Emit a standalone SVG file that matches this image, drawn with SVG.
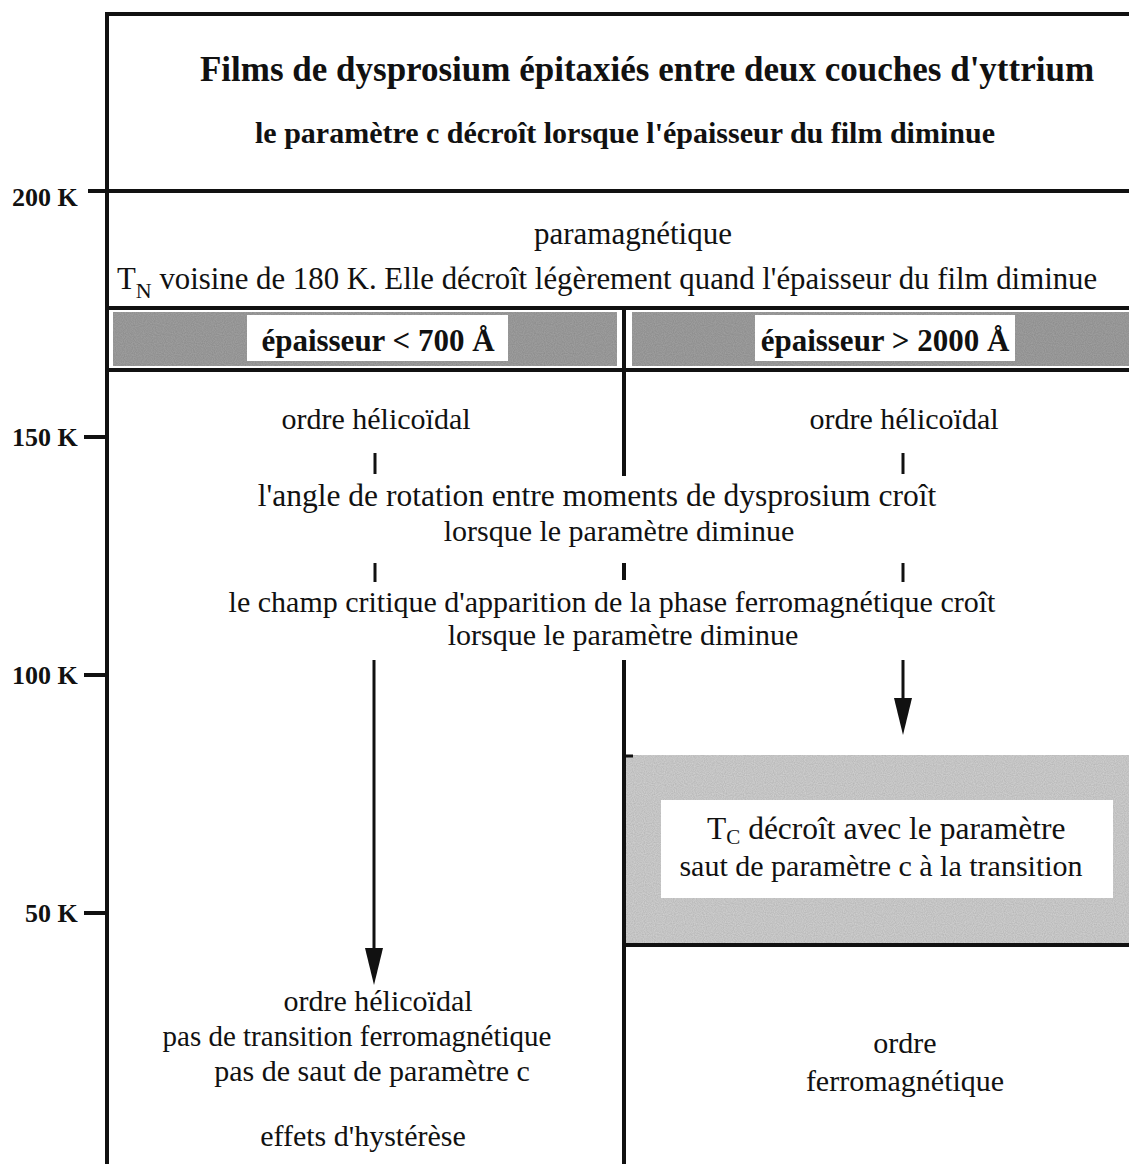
<svg xmlns="http://www.w3.org/2000/svg" width="1129" height="1164" viewBox="0 0 1129 1164">
<style>
.t{font-family:"Liberation Serif","Times New Roman",serif;font-size:30px;fill:#111}
.b{font-family:"Liberation Serif","Times New Roman",serif;font-weight:bold;fill:#111}
.ln{stroke:#111;stroke-width:4;fill:none}
.bar{stroke:#111;stroke-width:3;fill:none}
.ar{stroke:#111;stroke-width:3;fill:none}
</style>
<defs>
<filter id="grain" x="0" y="0" width="100%" height="100%">
<feTurbulence type="fractalNoise" baseFrequency="0.9" numOctaves="1" seed="3" result="n"/>
<feColorMatrix in="n" type="matrix" values="0 0 0 0 0  0 0 0 0 0  0 0 0 0 0  0 0 0 0.35 0" result="d"/>
<feComposite in="d" in2="SourceGraphic" operator="in" result="m"/>
<feMerge><feMergeNode in="SourceGraphic"/><feMergeNode in="m"/></feMerge>
</filter>
</defs>
<rect width="1129" height="1164" fill="#fff"/>

<g id="frame">
<line class="ln" x1="107" y1="14" x2="1129" y2="14"/>
<line class="ln" x1="107" y1="12" x2="107" y2="1164"/>
<line class="ln" x1="88" y1="191" x2="1129" y2="191"/>
<line class="ln" x1="107" y1="308" x2="1129" y2="308"/>
<line class="ln" x1="107" y1="370" x2="1129" y2="370"/>
<line class="ln" x1="624" y1="308" x2="624" y2="476"/>
<line class="ln" x1="624" y1="563" x2="624" y2="580"/>
<line class="ln" x1="624" y1="660" x2="624" y2="1164"/>
</g>

<g id="axis">
<line class="ln" x1="84" y1="437" x2="107" y2="437"/>
<line class="ln" x1="84" y1="675" x2="107" y2="675"/>
<line class="ln" x1="84" y1="913" x2="107" y2="913"/>
<text class="b" x="12" y="206" font-size="26">200 K</text>
<text class="b" x="12" y="446" font-size="26">150 K</text>
<text class="b" x="12" y="684" font-size="26">100 K</text>
<text class="b" x="25" y="922" font-size="26">50 K</text>
</g>

<g id="header">
<text class="b" x="647" y="81" font-size="35" text-anchor="middle">Films de dysprosium épitaxiés entre deux couches d'yttrium</text>
<text class="b" x="625" y="143" font-size="30" text-anchor="middle">le paramètre c décroît lorsque l'épaisseur du film diminue</text>
</g>

<g id="paramagnetic">
<text class="t" x="633" y="244" text-anchor="middle" style="font-size:31px">paramagnétique</text>
<text class="t" x="117" y="289" style="font-size:30.8px">T<tspan font-size="22" dy="9">N</tspan><tspan dy="-9">  voisine de 180 K. Elle décroît légèrement quand l'épaisseur du film diminue</tspan></text>
</g>

<g id="band-left">
<rect x="113" y="312" width="504" height="54" fill="#a4a4a4" filter="url(#grain)"/>
<rect x="247" y="315" width="261" height="46" fill="#fff"/>
<text class="b" x="378" y="351" font-size="31" text-anchor="middle">épaisseur &lt; 700 Å</text>
</g>

<g id="band-right">
<rect x="632" y="312" width="497" height="54" fill="#a4a4a4" filter="url(#grain)"/>
<rect x="755" y="315" width="260" height="46" fill="#fff"/>
<text class="b" x="885" y="351" font-size="31" text-anchor="middle">épaisseur &gt; 2000 Å</text>
</g>

<g id="helical-left">
<text class="t" x="376" y="429" text-anchor="middle">ordre hélicoïdal</text>
</g>
<g id="helical-right">
<text class="t" x="904" y="429" text-anchor="middle">ordre hélicoïdal</text>
</g>

<g id="angle">
<text class="t" x="597" y="506" text-anchor="middle" style="font-size:31.5px">l'angle de rotation entre moments de dysprosium croît</text>
<text class="t" x="619" y="541" text-anchor="middle">lorsque le paramètre diminue</text>
</g>

<g id="field">
<text class="t" x="612" y="612" text-anchor="middle">le champ critique d'apparition de la phase ferromagnétique croît</text>
<text class="t" x="623" y="645" text-anchor="middle">lorsque le paramètre diminue</text>
</g>

<g id="ferro-zone">
<rect x="626" y="755" width="503" height="188" fill="#d6d6d6" filter="url(#grain)"/>
<line class="bar" x1="624" y1="756" x2="633" y2="756"/>
<rect x="661" y="800" width="452" height="98" fill="#fff"/>
<text class="t" x="707" y="839" style="font-size:31.5px">T<tspan font-size="21" dy="5">C</tspan><tspan dy="-5"> décroît avec le paramètre</tspan></text>
<text class="t" x="881" y="876" text-anchor="middle">saut de paramètre c à la transition</text>
<line class="ln" x1="624" y1="945" x2="1129" y2="945"/>
</g>

<g id="bottom-left">
<text class="t" x="378" y="1011" text-anchor="middle">ordre hélicoïdal</text>
<text class="t" x="357" y="1046" text-anchor="middle" style="font-size:29px">pas de transition ferromagnétique</text>
<text class="t" x="372" y="1081" text-anchor="middle">pas de saut de paramètre c</text>
<text class="t" x="363" y="1146" text-anchor="middle">effets d'hystérèse</text>
</g>

<g id="bottom-right">
<text class="t" x="905" y="1053" text-anchor="middle">ordre</text>
<text class="t" x="905" y="1091" text-anchor="middle">ferromagnétique</text>
</g>

<g id="connectors">
<line class="bar" x1="375" y1="453" x2="375" y2="474"/>
<line class="bar" x1="903" y1="453" x2="903" y2="474"/>
<line class="bar" x1="375" y1="563" x2="375" y2="582"/>
<line class="bar" x1="903" y1="563" x2="903" y2="582"/>
<line class="ar" x1="374" y1="660" x2="374" y2="950"/>
<polygon points="365,948 383,948 374,985" fill="#111"/>
<line class="ar" x1="903" y1="660" x2="903" y2="700"/>
<polygon points="894,698 912,698 903,735" fill="#111"/>
</g>
</svg>
